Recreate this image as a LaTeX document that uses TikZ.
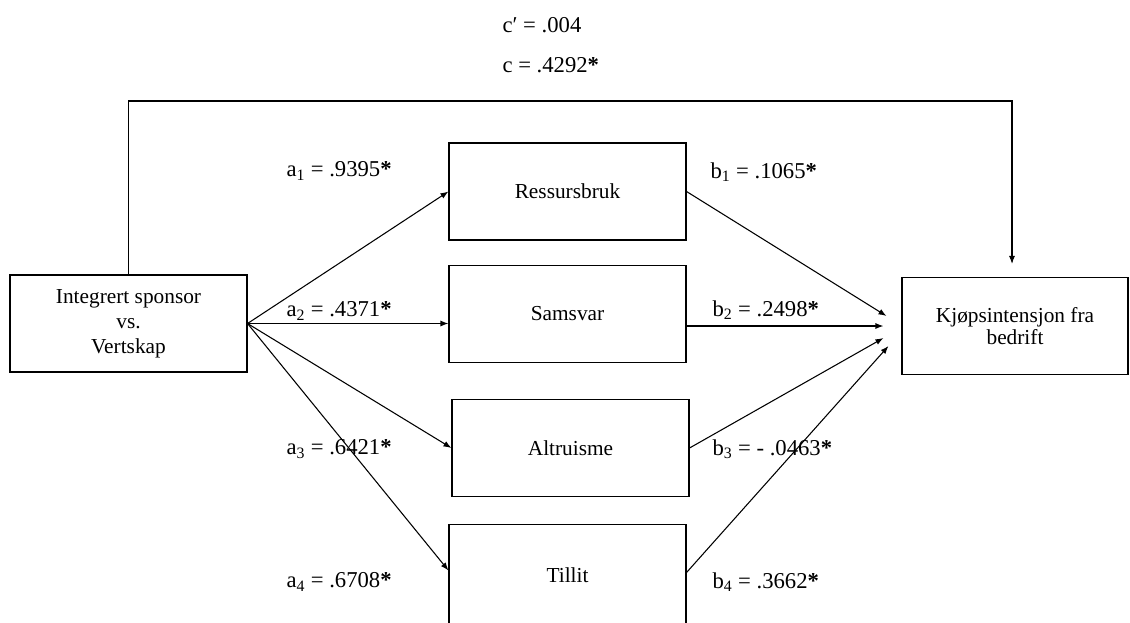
\documentclass[tikz,border=0pt]{standalone}
\usepackage{fontspec}
\setmainfont{Liberation Serif}
\usetikzlibrary{calc,arrows.meta}
\newcommand\sig{\textbf{*}}

\begin{document}
\begin{tikzpicture}[x=0.75pt, y=-0.75pt, line width=0.8pt, >={Latex[length=6pt,width=4.5pt]},
	box/.style={draw, inner sep=0pt, minimum width=177.75pt, minimum height=72.75pt, align=center, font=\fontsize{16}{18}\selectfont},
	coef/.style={anchor=west, inner sep=0pt, font=\fontsize{17}{20}\selectfont}]
	\clip (0,0) rectangle (1130,622);
	% boxes
	\node [box, font=\fontsize{16}{18.75}\selectfont] (src) at (128.5,323.5) {Integrert sponsor\\vs.\\Vertskap};
	\node [box] (m1) at (567.5,191.5) {Ressursbruk};
	\node [box] (m2) at (567.5,314) {Samsvar};
	\node [box] (m3) at (570.5,448) {Altruisme};
	\node [box, minimum height=76pt] (m4) at (567.5,575.5) {Tillit};
	\node [box, minimum width=169.5pt, font=\fontsize{16}{16.5}\selectfont] (out) at (1015,326) {Kjøpsintensjon fra\\bedrift};
	% direct path over the top
	\coordinate (bend) at (1012,101);
	\draw [->, shorten >=9.75pt] (src.north) |- (bend) -- (bend |- out.north);
	% a paths
	\draw [->] (src.east) -- (m1.west);
	\draw [->] (src.east) -- (m2.west |- src.east);
	\draw [->] (src.east) -- (m3.west);
	\draw [->] (src.east) -- ($(m4.west)+(0,-5)$);
	% b paths
	\draw [->] (m1.east) -- ($(out.west)+(-15,-10)$);
	\draw [->, shorten >=13.5pt] (m2.east |- out.west) -- (out.west);
	\draw [->] (m3.east) -- ($(out.west)+(-18,12)$);
	\draw [->] ($(m4.east)+(0,-3)$) -- ($(out.west)+(-13,20)$);
	% coefficients
	\node [coef] (cp) at (502,25) {c′ = .004};
	\node [coef] (c) at (502,65) {c = .4292\sig};
	\node [coef] (a1) at (286,171) {a\textsubscript{1} = .9395\sig};
	\node [coef] (a2) at (286,311) {a\textsubscript{2} = .4371\sig};
	\node [coef] (a3) at (286,449) {a\textsubscript{3} = .6421\sig};
	\node [coef] (a4) at (286,582) {a\textsubscript{4} = .6708\sig};
	\node [coef] (b1) at (710,172) {b\textsubscript{1} = .1065\sig};
	\node [coef] (b2) at (712,310) {b\textsubscript{2} = .2498\sig};
	\node [coef] (b3) at (712,449) {b\textsubscript{3} = - .0463\sig};
	\node [coef] (b4) at (712,582) {b\textsubscript{4} = .3662\sig};
\end{tikzpicture}
\end{document}
